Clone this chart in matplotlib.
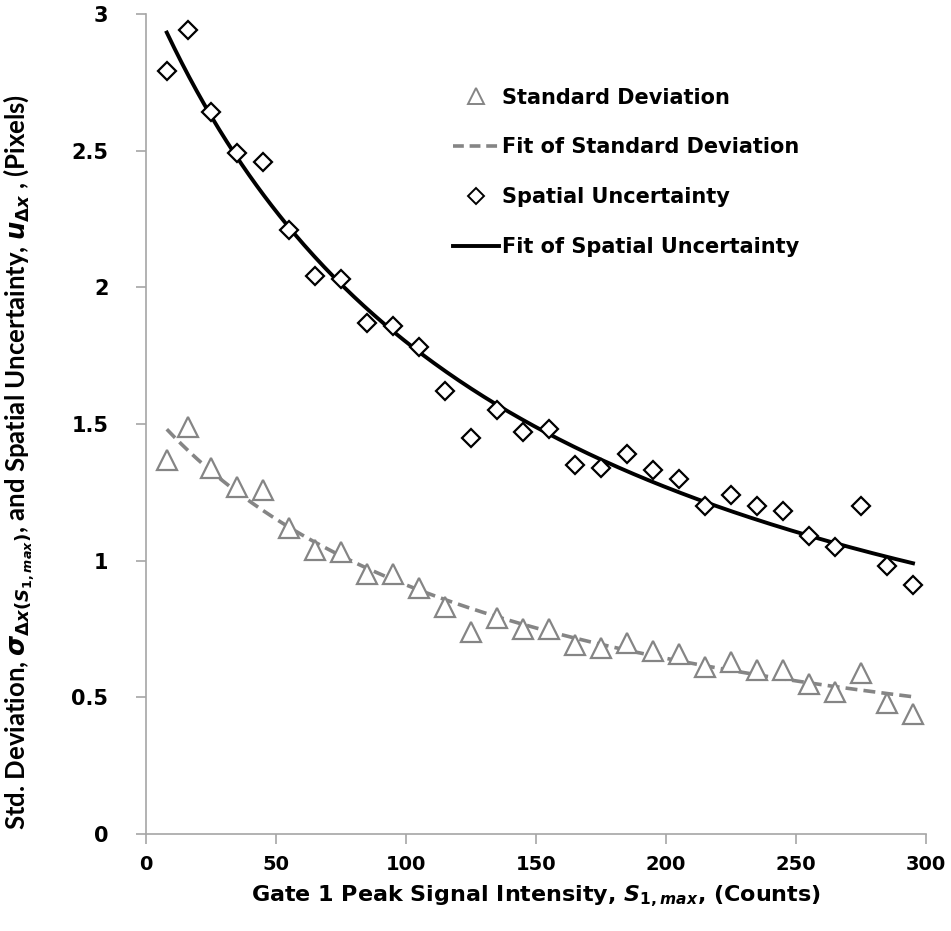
import numpy as np
import matplotlib
matplotlib.use("Agg")
import matplotlib.pyplot as plt
from matplotlib.lines import Line2D

# ========================================
# DATA
# ========================================
signal = [8, 16, 25, 35, 45, 55, 65, 75, 85, 95, 105, 115, 125, 135, 145,
          155, 165, 175, 185, 195, 205, 215, 225, 235, 245, 255, 265, 275, 285, 295]

std_dev = [1.37, 1.49, 1.34, 1.27, 1.26, 1.12, 1.04, 1.03, 0.95, 0.95, 0.90,
           0.83, 0.74, 0.79, 0.75, 0.75, 0.69, 0.68, 0.70, 0.67, 0.66, 0.61,
           0.63, 0.60, 0.60, 0.55, 0.52, 0.59, 0.48, 0.44]

spatial_unc = [2.79, 2.94, 2.64, 2.49, 2.46, 2.21, 2.04, 2.03, 1.87, 1.86, 1.78,
               1.62, 1.45, 1.55, 1.47, 1.48, 1.35, 1.34, 1.39, 1.33, 1.30, 1.20,
               1.24, 1.20, 1.18, 1.09, 1.05, 1.20, 0.98, 0.91]

y_ticks = [0, 0.5, 1, 1.5, 2, 2.5, 3]
y_tick_labels = ["0", "0.5", "1", "1.5", "2", "2.5", "3"]
x_ticks = [0, 50, 100, 150, 200, 250, 300]


def hyperbolic_fit(x, y):
    """Least squares fit of y = a / (x + k), grid search on k."""
    x = np.asarray(x, float)
    y = np.asarray(y, float)
    best = None
    for k in np.linspace(1, 600, 3000):
        g = 1.0 / (x + k)
        a = np.dot(g, y) / np.dot(g, g)
        err = np.sum((a * g - y) ** 2)
        if best is None or err < best[0]:
            best = (err, a, k)
    _, a, k = best
    return lambda t: a / (t + k)


# ========================================
# PLOT
# ========================================
plt.rcParams['font.family'] = ['DejaVu Sans']
plt.rcParams['font.weight'] = 'bold'
plt.rcParams['mathtext.fontset'] = 'custom'
plt.rcParams['mathtext.rm'] = 'DejaVu Sans:bold'
plt.rcParams['mathtext.it'] = 'DejaVu Sans:bold:italic'
plt.rcParams['mathtext.bf'] = 'DejaVu Sans:bold'

fig = plt.figure(figsize=(9.51, 9.31), dpi=100)
ax = fig.add_axes([146 / 951, 1 - 834 / 931, 780 / 951, 820 / 931])

xs = np.linspace(signal[0], signal[-1], 300)
std_fit = hyperbolic_fit(signal, std_dev)
unc_fit = hyperbolic_fit(signal, spatial_unc)

gray = '#858585'
dash = (0, (3.3, 1.7))
ax.plot(xs, std_fit(xs), color=gray, lw=2.6, ls=dash, zorder=2)
ax.plot(signal, std_dev, ls='none', marker='^', ms=14, mfc='white',
        mec=gray, mew=1.6, zorder=3)
ax.plot(xs, unc_fit(xs), color='black', lw=2.8, zorder=2)
ax.plot(signal, spatial_unc, ls='none', marker='D', ms=9.6, mfc='white',
        mec='black', mew=1.6, zorder=3)

ax.set_xlim(0, 300)
ax.set_ylim(0, 3)
ax.set_xticks(x_ticks)
ax.set_yticks(y_ticks)
ax.set_yticklabels(y_tick_labels, fontsize=15, weight='bold')
for lab in ax.get_xticklabels():
    lab.set_fontsize(14)
    lab.set_fontweight('bold')

for side in ['top', 'right']:
    ax.spines[side].set_visible(False)
for side in ['left', 'bottom']:
    ax.spines[side].set_color('#A6A6A6')
    ax.spines[side].set_linewidth(1.2)
ax.tick_params(axis='both', direction='out', length=7, width=1.2, color='#A6A6A6')
ax.tick_params(axis='y', pad=20)
ax.tick_params(axis='x', pad=8)

ax.set_xlabel(r'Gate 1 Peak Signal Intensity, $S_{1,max}$, (Counts)',
              fontsize=16, fontweight='bold', labelpad=7)
fig.text(19 / 951, 1 - 462 / 931,
         r'Std. Deviation, $\sigma_{\Delta x(S_{1,max})}$, and Spatial Uncertainty, $u_{\Delta x}$ , (Pixels)',
         rotation=90, ha='center', va='center', fontsize=18.5, fontweight='bold',
         family='Lato')

handles = [
    Line2D([], [], ls='none', marker='^', ms=11.5, mfc='white', mec=gray, mew=1.4),
    Line2D([], [], color=gray, lw=2.6, ls=(0, (3.0, 1.6))),
    Line2D([], [], ls='none', marker='D', ms=8.5, mfc='white', mec='black', mew=1.4),
    Line2D([], [], color='black', lw=2.8),
]
labels = ['Standard Deviation', 'Fit of Standard Deviation',
          'Spatial Uncertainty', 'Fit of Spatial Uncertainty']
ax.legend(handles, labels, loc='upper left', bbox_to_anchor=(0.38, 0.923),
          frameon=False, fontsize=15, handlelength=2.2, handletextpad=0.15,
          labelspacing=1.43, borderpad=0)

fig.savefig('out.png', dpi=100)
